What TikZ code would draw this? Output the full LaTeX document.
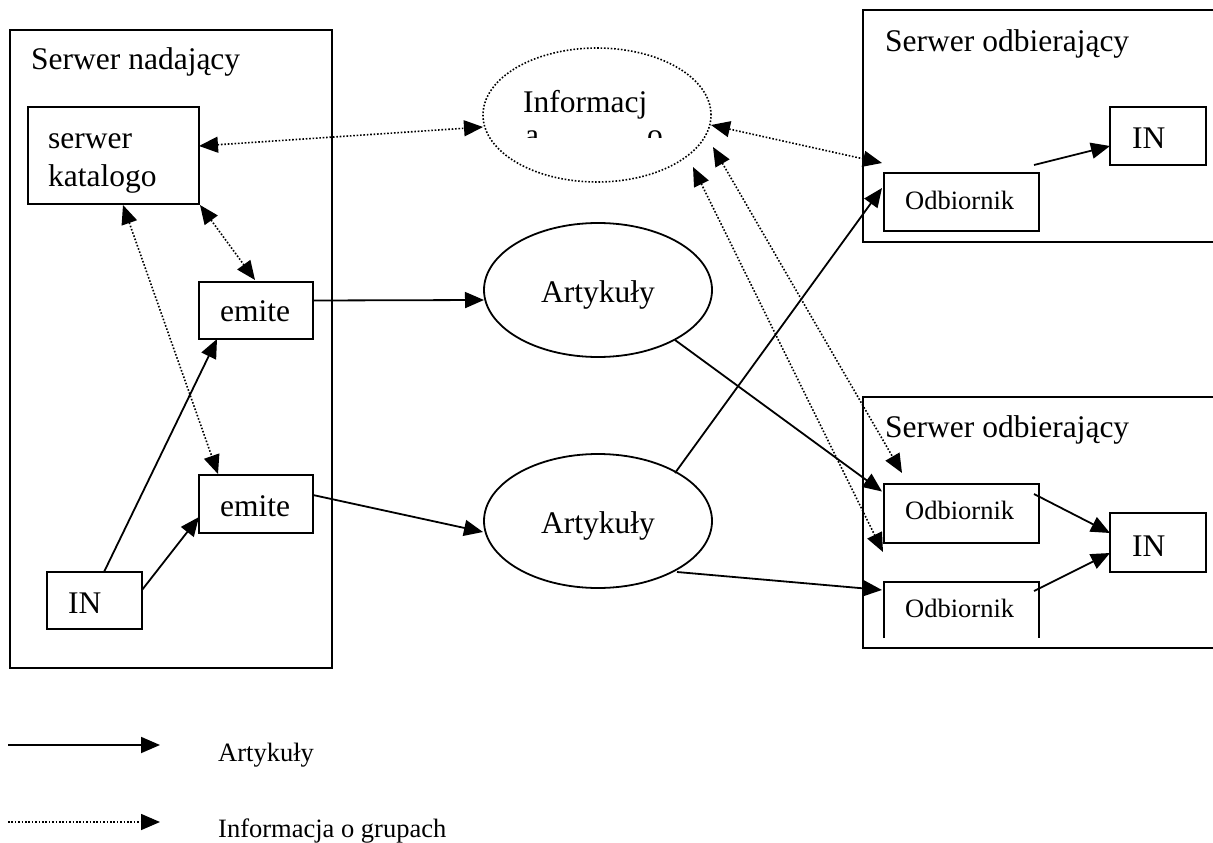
\documentclass[tikz,border=0pt]{standalone}
\usepackage{fontspec}
\setmainfont{Liberation Serif}
\usetikzlibrary{arrows.meta,shapes.geometric,calc}
\begin{document}
\begin{tikzpicture}[x=1pt,y=-1pt,
  boxnode/.style={draw,line width=1.8pt,inner sep=0pt,outer sep=0pt},
  ellnode/.style={ellipse,draw,line width=1.8pt,inner sep=0pt,outer sep=0pt,minimum width=228pt,minimum height=134pt},
  big/.style={font=\fontsize{31.5}{36}\selectfont,inner sep=0pt},
  small/.style={font=\fontsize{26.5}{31}\selectfont,inner sep=0pt},
  solidarrow/.style={line width=1.8pt,-{Triangle[length=19pt,width=16pt]}},
  dotline/.style={line width=1.6pt,dash pattern=on 1.6pt off 1.8pt},
  dotarrow/.style={dotline,{Triangle[length=19pt,width=16pt]}-{Triangle[length=19pt,width=16pt]}},
  dotone/.style={dotline,-{Triangle[length=19pt,width=16pt]}}]
\useasboundingbox[fill=white] (0,0) rectangle (1213,843);

% containers
\node[boxnode,minimum width=322pt,minimum height=638pt] (sn) at (171,349) {};
\draw[line width=1.8pt] (1214,10) -- (863,10) -- (863,242) -- (1214,242);
\draw[line width=1.8pt] (1214,397) -- (863,397) -- (863,648) -- (1214,648);

\node[big,anchor=base west] (tsn) at (31,70) {Serwer nadający};
\node[big,anchor=base west] (tro1) at (885,52) {Serwer odbierający};
\node[big,anchor=base west] (tro2) at (885,437) {Serwer odbierający};

% left boxes
\node[boxnode,minimum width=171pt,minimum height=97pt] (kat) at (113.5,155.5) {};
\node[big,anchor=base west] (tkat1) at (48,148) {serwer};
\node[big,anchor=base west] (tkat2) at (48,186) {katalogo};
\node[boxnode,minimum width=114pt,minimum height=57pt] (em1) at (256,310.5) {};
\node[big,anchor=base] (tem1) at (255,321) {emite};
\node[boxnode,minimum width=114pt,minimum height=58pt] (em2) at (256,504) {};
\node[big,anchor=base] (tem2) at (255,516) {emite};
\node[boxnode,minimum width=95pt,minimum height=57pt] (inL) at (94.5,600.5) {};
\node[big,anchor=base west] (tinL) at (68,613) {IN};

% ellipses
\node[ellnode,dotline] (info) at (597,115) {};
\node[big,anchor=base west] (tinfo) at (523,112) {Informacj};
\begin{scope}
\clip (490,124) rectangle (710,137.5);
\node[big,anchor=base west] (tinfoa) at (525,145) {a};
\node[big,anchor=base west] (tinfob) at (647,145) {o};
\end{scope}
\node[ellnode] (art1) at (598,290) {};
\node[big,anchor=base] (tart1) at (598,302) {Artykuły};
\node[ellnode] (art2) at (598,521) {};
\node[big,anchor=base] (tart2) at (598,533) {Artykuły};

% right boxes
\node[boxnode,minimum width=155pt,minimum height=58pt] (odb1) at (961.5,202) {};
\node[small,anchor=base west] (todb1) at (905,209) {Odbiornik};
\node[boxnode,minimum width=96pt,minimum height=58pt] (inR1) at (1158,136) {};
\node[big,anchor=base west] (tinR1) at (1132,148) {IN};
\node[boxnode,minimum width=155pt,minimum height=59pt] (odb2) at (961.5,513.5) {};
\node[small,anchor=base west] (todb2) at (905,519) {Odbiornik};
\node[boxnode,minimum width=96pt,minimum height=59pt] (inR2) at (1158,542.5) {};
\node[big,anchor=base west] (tinR2) at (1132,556) {IN};
\node[inner sep=0pt,outer sep=0pt,minimum width=155pt,minimum height=56pt] (odb3) at (961.5,610) {};
\draw[line width=1.8pt] (odb3.south west) -- (odb3.north west) -- (odb3.north east) -- (odb3.south east);
\node[small,anchor=base west] (todb3) at (905,617) {Odbiornik};

% solid connectors
\draw[solidarrow] ([yshift=10pt]em1.east) -- ([yshift=-10pt]art1.west);
\draw[solidarrow] ([yshift=9pt]em2.east) -- ($(art2.center)+(-115,11)$);
\draw[solidarrow] ([xshift=9.5pt]inL.north) -- ([xshift=-39pt]em1.south);
\draw[solidarrow] ([yshift=10.5pt]inL.east) -- ([yshift=-13pt]em2.west);
\draw[solidarrow] ($(art1.center)+(77,50)$) -- ([xshift=-2pt,yshift=22pt]odb2.west);
\draw[solidarrow] ($(art2.center)+(77,-48)$) -- ([xshift=-2pt,yshift=14pt]odb1.west);
\draw[solidarrow] ($(art2.center)+(79,51)$) -- ([xshift=-2pt,yshift=20pt]odb3.west);
\draw[solidarrow] ([xshift=-5pt,yshift=8pt]odb1.north east) -- ([yshift=-10pt]inR1.west);
\draw[solidarrow] ([xshift=-5pt,yshift=-10pt]odb2.north east) -- ([yshift=9.5pt]inR2.west);
\draw[solidarrow] ([xshift=-5pt,yshift=-9pt]odb3.north east) -- ([yshift=-10.5pt]inR2.west);

% dotted connectors
\coordinate (c1) at (882,163);
\coordinate (c2) at (902,473);
\coordinate (c3) at (883,552);
\draw[dotarrow] ([yshift=9.5pt]kat.east) -- ([yshift=-12pt]info.west);
\draw[dotarrow] ([xshift=1pt,yshift=-1pt]kat.south east) -- ([xshift=-1pt,yshift=2pt]em1.north);
\draw[dotarrow] ([xshift=9.5pt,yshift=-1pt]kat.south) -- ([xshift=-38pt,yshift=1pt]em2.north);
\draw[dotarrow] ([yshift=-10pt]info.east) -- (c1);
\draw[dotarrow] ($(info.center)+(116,32)$) -- (c2);
\draw[dotarrow] ($(info.center)+(96,52)$) -- (c3);

% legend
\coordinate (l1a) at (8,745);
\coordinate (l1b) at (160,745);
\coordinate (l2a) at (8,822);
\coordinate (l2b) at (160,822);
\draw[solidarrow] (l1a) -- (l1b);
\draw[dotone] (l2a) -- (l2b);
\node[small,anchor=base west] (leg1) at (218,761) {Artykuły};
\node[small,anchor=base west] (leg2) at (218,837) {Informacja o grupach};
\end{tikzpicture}
\end{document}
